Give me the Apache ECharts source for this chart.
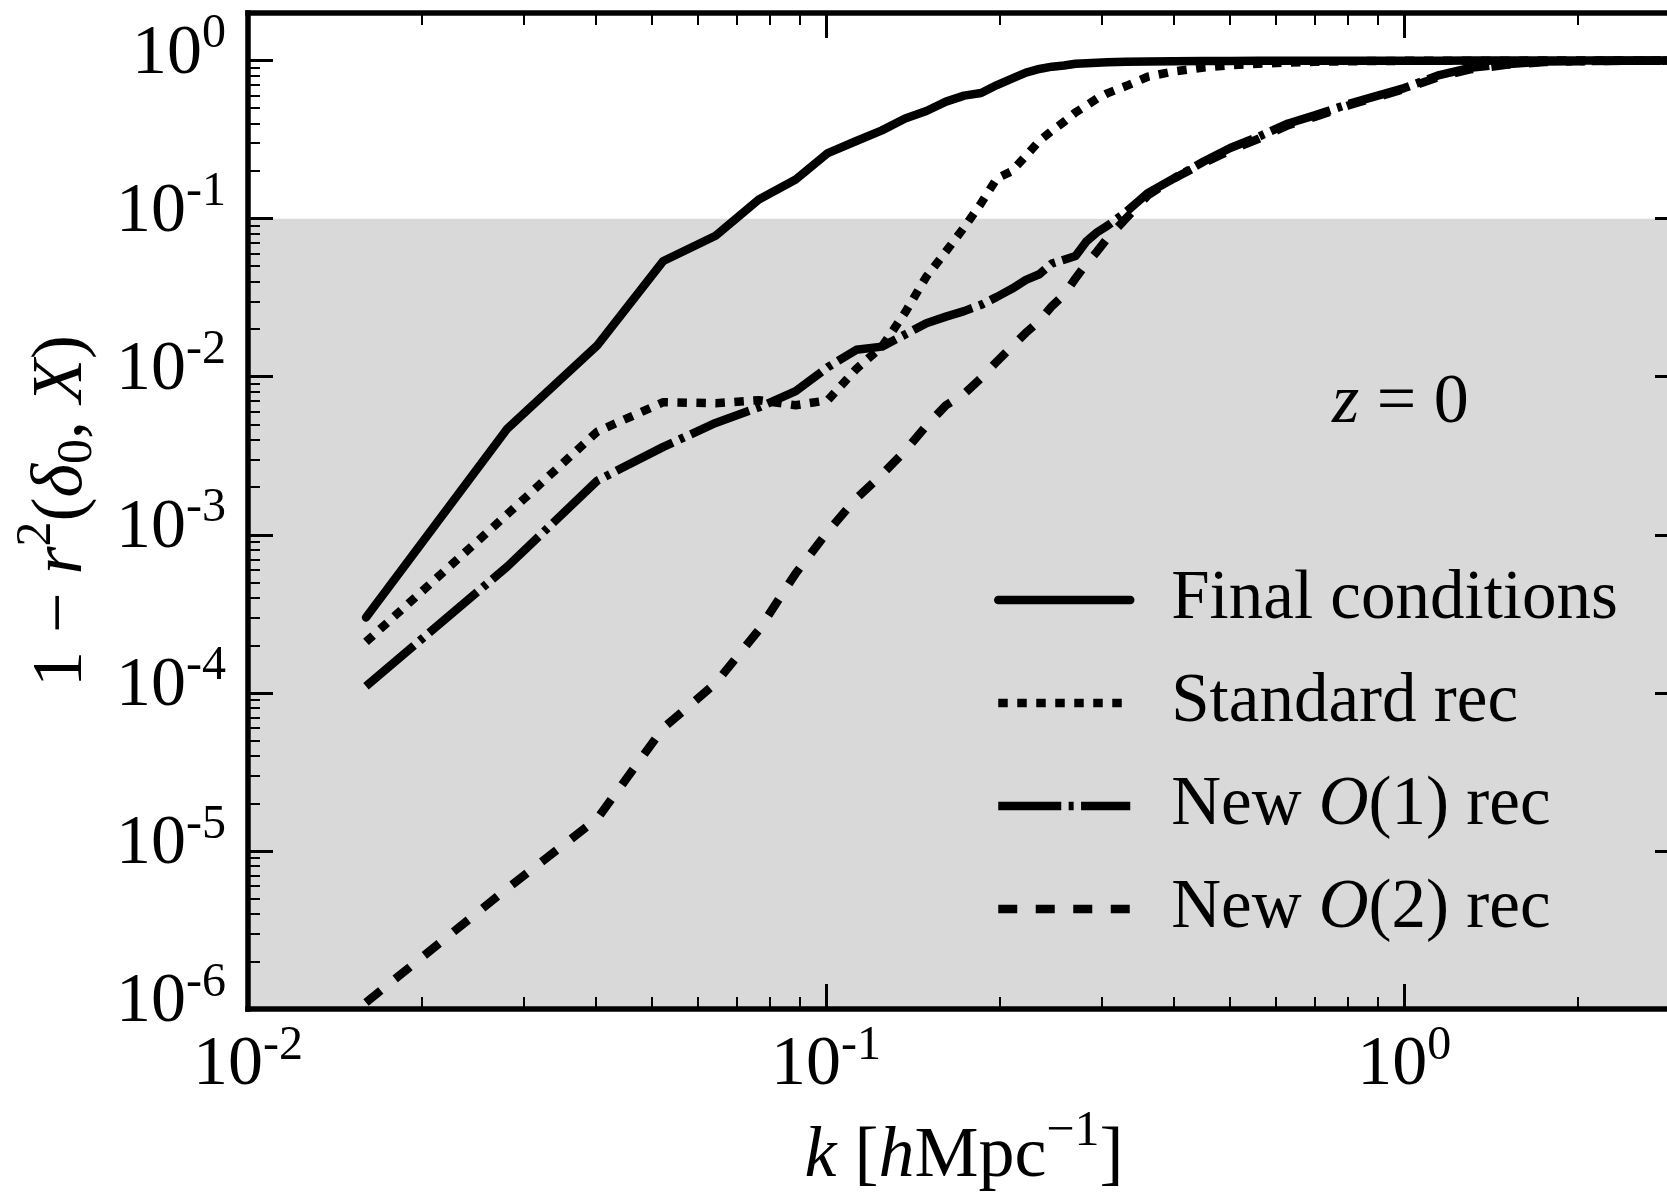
<!DOCTYPE html>
<html><head><meta charset="utf-8">
<script src="https://cdn.jsdelivr.net/npm/echarts@6/dist/echarts.min.js"></script>
<style>
html,body{margin:0;padding:0;overflow:hidden;background:#fff;width:1667px;height:1198px}
#chart{width:1700px;height:1198px}
</style>
</head><body><div id="chart"></div>
<script>
// ---- data ----
const kValues = [0.016, 0.0281, 0.0402, 0.0523, 0.0644, 0.0765, 0.0886, 0.1007, 0.1128, 0.1249,
  0.137, 0.1491, 0.1612, 0.1733, 0.1854, 0.1975, 0.2096, 0.2217, 0.2338, 0.2459,
  0.258, 0.2701, 0.2822, 0.2943, 0.3064, 0.33, 0.36, 0.4, 0.45, 0.5,
  0.56, 0.63, 0.7, 0.8, 0.9, 1.0, 1.15, 1.3, 1.5, 1.75,
  2.0, 2.4, 3.0];
const finalConditions = [3.0e-4, 0.0047, 0.0158, 0.054, 0.078, 0.132, 0.177, 0.26, 0.31, 0.362,
  0.43, 0.48, 0.55, 0.60, 0.623, 0.70, 0.77, 0.84, 0.885, 0.915,
  0.93, 0.955, 0.962, 0.97, 0.975, 0.982, 0.987, 0.99, 0.993, 0.995,
  0.996, 0.997, 0.998, 0.998, 0.999, 0.999, 0.999, 1.0, 1.0, 1.0,
  1.0, 1.0, 1.0];
const standardRec = [2.1e-4, 0.00135, 0.0045, 0.0069, 0.0068, 0.0071, 0.0066, 0.0071, 0.0112, 0.0155,
  0.0255, 0.043, 0.062, 0.088, 0.125, 0.18, 0.2, 0.25, 0.31, 0.36,
  0.41, 0.47, 0.52, 0.575, 0.62, 0.69, 0.79, 0.855, 0.905, 0.935,
  0.955, 0.972, 0.982, 0.99, 0.994, 0.996, 0.998, 0.999, 0.999, 1.0,
  1.0, 1.0, 1.0];
const newO1Rec = [1.1e-4, 6.3e-4, 0.0022, 0.0036, 0.0051, 0.0064, 0.0081, 0.0115, 0.0148, 0.0155,
  0.0185, 0.0218, 0.024, 0.026, 0.0285, 0.032, 0.036, 0.041, 0.0445, 0.052,
  0.055, 0.058, 0.072, 0.082, 0.09, 0.11, 0.145, 0.18, 0.23, 0.28,
  0.33, 0.4, 0.45, 0.53, 0.6, 0.67, 0.81, 0.9, 0.95, 0.985,
  0.993, 0.998, 1.0];
const newO2Rec = [1.1e-6, 5.8e-6, 1.6e-5, 6.0e-5, 1.15e-4, 2.5e-4, 5.7e-4, 0.00105, 0.0017, 0.0024,
  0.0034, 0.0049, 0.0066, 0.0078, 0.0098, 0.0125, 0.0155, 0.019, 0.0225, 0.028,
  0.033, 0.042, 0.052, 0.062, 0.075, 0.1, 0.14, 0.18, 0.225, 0.27,
  0.32, 0.39, 0.44, 0.52, 0.59, 0.66, 0.79, 0.88, 0.94, 0.98,
  0.99, 0.997, 1.0];
const seriesNames = ['Final conditions', 'Standard rec', 'New O(1) rec', 'New O(2) rec'];
const xMinorTicks = [0.02, 0.03, 0.04, 0.05, 0.06, 0.07, 0.08, 0.09,
  0.2, 0.3, 0.4, 0.5, 0.6, 0.7, 0.8, 0.9, 2];
const yMinorTicks = [2e-6, 3e-6, 4e-6, 5e-6, 6e-6, 7e-6, 8e-6, 9e-6,
  2e-5, 3e-5, 4e-5, 5e-5, 6e-5, 7e-5, 8e-5, 9e-5,
  2e-4, 3e-4, 4e-4, 5e-4, 6e-4, 7e-4, 8e-4, 9e-4,
  2e-3, 3e-3, 4e-3, 5e-3, 6e-3, 7e-3, 8e-3, 9e-3,
  0.02, 0.03, 0.04, 0.05, 0.06, 0.07, 0.08, 0.09,
  0.2, 0.3, 0.4, 0.5, 0.6, 0.7, 0.8, 0.9];
const shadeBand = [1e-6, 0.1];
const xRange = [0.01, 3];
const yRange = [1e-6, 2];

// ---- chart ----
const FONT = '"Liberation Serif", "DejaVu Serif", serif';
const chart = echarts.init(document.getElementById('chart'), null, {renderer: 'canvas'});

function pow10Label(v) {
  const l = Math.log10(v);
  const e = Math.round(l);
  if (Math.abs(l - e) > 1e-6) return '';
  return '{b|10}{s|' + (e < 0 ? '-' + (-e) : e) + '}';
}
const labelRich = {
  b: {fontSize: 70, fontFamily: FONT, lineHeight: 70, color: '#000'},
  s: {fontSize: 48, fontFamily: FONT, height: 30, lineHeight: 30, verticalAlign: 'top', color: '#000'}
};
const spine = {show: true, onZero: false, lineStyle: {color: '#000', width: 5.5, cap: 'square'}};
const noLine = {show: false, onZero: false};
const majorTick = {show: true, inside: true, length: 25, lineStyle: {color: '#000', width: 3}};
const minorTickX = {show: true, inside: true, length: 12, lineStyle: {color: '#000', width: 2}, customValues: xMinorTicks};
const minorTickY = {show: true, inside: true, length: 12, lineStyle: {color: '#000', width: 2}, customValues: yMinorTicks};
const xBase = {type: 'log', logBase: 10, min: xRange[0], max: xRange[1], gridIndex: 0, splitLine: {show: false}, z: 10};
const yBase = {type: 'log', logBase: 10, min: yRange[0], max: yRange[1], gridIndex: 0, splitLine: {show: false}, z: 10};
const nameRich = {
  n: {fontSize: 72, fontFamily: FONT, lineHeight: 72, color: '#000'},
  i: {fontSize: 72, fontFamily: FONT, fontStyle: 'italic', lineHeight: 72, color: '#000'},
  sup: {fontSize: 50, fontFamily: FONT, height: 22, lineHeight: 22, verticalAlign: 'top', color: '#000'},
  sub: {fontSize: 50, fontFamily: FONT, height: 40, lineHeight: 40, verticalAlign: 'bottom', color: '#000'}
};

const dashStyles = ['solid', [9.5, 9.5], [63, 7.4, 5, 7.4], [19, 18.5]];
const caps = ['round', 'butt', 'butt', 'butt'];
const seriesData = [finalConditions, standardRec, newO1Rec, newO2Rec];

const series = [{
  name: 'shade', type: 'line', data: [[xRange[0], yRange[0]]], z: 1, silent: true,
  symbol: 'none', lineStyle: {opacity: 0},
  markArea: {silent: true, itemStyle: {color: '#d9d9d9'},
    data: [[{yAxis: shadeBand[0]}, {yAxis: shadeBand[1]}]]}
}];
seriesNames.forEach((name, s) => {
  series.push({
    name, type: 'line', xAxisIndex: 0, yAxisIndex: 0, z: 3,
    symbol: 'none', showSymbol: false, silent: true,
    data: kValues.map((k, i) => [k, seriesData[s][i]]),
    lineStyle: {color: '#000', width: 8.5, type: dashStyles[s], cap: caps[s], join: 'round'},
    emphasis: {disabled: true}
  });
});

function legendFmt(name) {
  const m = name.match(/^New O\((\d)\) rec$/);
  if (m) return '{n|New }{i|O}{n|(' + m[1] + ') rec}';
  return '{n|' + name + '}';
}

chart.setOption({
  animation: false,
  backgroundColor: '#fff',
  grid: {left: 248, top: 13, width: 1432, height: 1001, show: false},
  xAxis: [
    Object.assign({}, xBase, {position: 'bottom', axisLine: spine, axisTick: majorTick,
      axisLabel: {formatter: pow10Label, rich: labelRich, margin: 22, color: '#000'},
      name: '{i|k}{n| [}{i|h}{n|Mpc}{sup|−1}{n|]}', nameLocation: 'middle', nameGap: 112,
      nameTextStyle: {rich: nameRich}}),
    Object.assign({}, xBase, {position: 'bottom', axisLine: noLine, axisTick: minorTickX, axisLabel: {show: false}}),
    Object.assign({}, xBase, {position: 'top', axisLine: spine, axisTick: majorTick, axisLabel: {show: false}}),
    Object.assign({}, xBase, {position: 'top', axisLine: noLine, axisTick: minorTickX, axisLabel: {show: false}})
  ],
  yAxis: [
    Object.assign({}, yBase, {position: 'left', axisLine: spine, axisTick: majorTick,
      axisLabel: {formatter: pow10Label, rich: labelRich, margin: 22, color: '#000', padding: [0, 0, 12, 0]},
      name: '{n|1 − }{i|r}{sup|2}{n|(}{i|δ}{sub|0}{n|, }{i|X}{n|)}', nameLocation: 'middle', nameGap: 150, nameRotate: 90,
      nameTextStyle: {rich: nameRich}}),
    Object.assign({}, yBase, {position: 'left', axisLine: noLine, axisTick: minorTickY, axisLabel: {show: false}}),
    Object.assign({}, yBase, {position: 'right', axisLine: spine, axisTick: majorTick, axisLabel: {show: false}}),
    Object.assign({}, yBase, {position: 'right', axisLine: noLine, axisTick: minorTickY, axisLabel: {show: false}})
  ],
  legend: {
    data: seriesNames, orient: 'vertical', left: 994, top: 560, padding: 0,
    itemWidth: 132, itemHeight: 12, itemGap: 23, selectedMode: false,
    itemStyle: {opacity: 0},
    lineStyle: {width: 8.5},
    formatter: legendFmt,
    textStyle: {fontSize: 69, fontFamily: FONT, color: '#000', lineHeight: 80, padding: [0, 0, 0, 36],
      rich: {
        n: {fontSize: 69, fontFamily: FONT, color: '#000', lineHeight: 80},
        i: {fontSize: 69, fontFamily: FONT, fontStyle: 'italic', color: '#000', lineHeight: 80}
      }}
  },
  graphic: [{
    type: 'text', x: 1332, y: 404, z: 20,
    style: {text: '{i|z}{n| = 0}', align: 'left', verticalAlign: 'middle',
      rich: {
        i: {fontSize: 70, fontFamily: FONT, fontStyle: 'italic', fill: '#000'},
        n: {fontSize: 70, fontFamily: FONT, fill: '#000'}
      }}
  }],
  series
});
</script>
</body></html>
